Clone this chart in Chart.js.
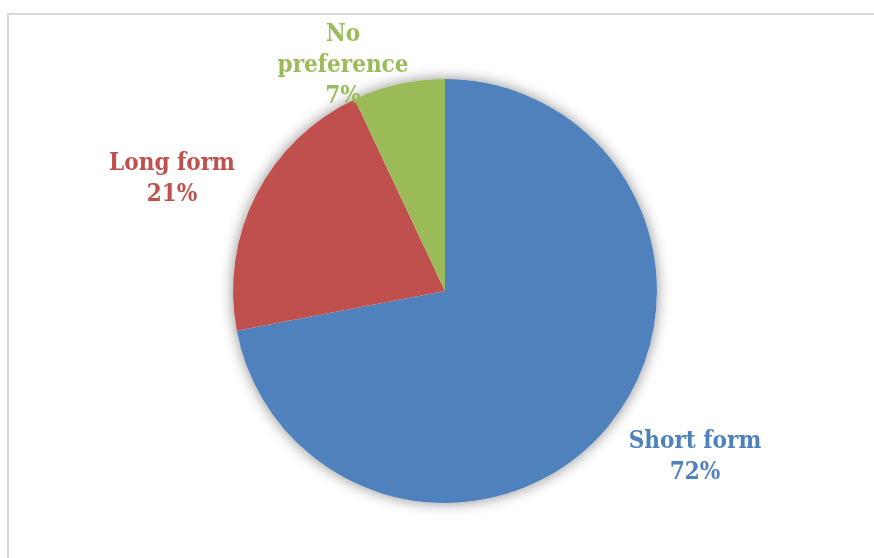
<!DOCTYPE html>
<html>
<head>
<meta charset="utf-8">
<script src="https://cdn.jsdelivr.net/npm/chart.js@4/dist/chart.umd.min.js"></script>
<style>
	html, body { margin: 0; padding: 0; background: #ffffff; overflow: hidden; }
	#frame {
		position: absolute; left: 7px; top: 13px;
		width: 900px; height: 600px;
		border: 2px solid #d9d9d9;
	}
	#wrap { position: absolute; left: 0; top: 0; width: 874px; height: 558px; }
</style>
</head>
<body>
<div id="frame"></div>
<div id="wrap"><canvas id="preference"></canvas></div>
<script>
var categories = ['Short form', 'Long form', 'No preference'];
var shares = [72, 21, 7];
var sliceColors = ['#4f81bd', '#c0504d', '#9bbb59'];

// label text lines (category split for wrapping) and where each block sits, relative to the pie centre
var labelLines = [['Short form'], ['Long form'], ['No', 'preference']];
var labelOffsets = [[250, 166], [-273, -112], [-102, -225]];

// soft drop shadow behind the whole pie
var pieShadow = {
	id: 'pieShadow',
	beforeDatasetsDraw: function(chart) {
		var arc = chart.getDatasetMeta(0).data[0];
		var ctx = chart.ctx;
		ctx.save();
		ctx.shadowColor = 'rgba(0,0,0,0.45)';
		ctx.shadowBlur = 14;
		ctx.fillStyle = '#ffffff';
		ctx.beginPath();
		ctx.arc(arc.x, arc.y, arc.outerRadius, 0, Math.PI * 2);
		ctx.fill();
		ctx.restore();
	}
};

// category + percentage labels outside the slices
var sliceLabels = {
	id: 'sliceLabels',
	afterDatasetsDraw: function(chart) {
		var meta = chart.getDatasetMeta(0);
		var ctx = chart.ctx;
		var lineH = 31;
		ctx.save();
		ctx.font = 'bold 24px "DejaVu Serif Condensed", "DejaVu Serif", serif';
		ctx.textAlign = 'center';
		ctx.textBaseline = 'middle';
		meta.data.forEach(function(arc, i) {
			var lines = labelLines[i].concat([shares[i] + '%']);
			var cx = arc.x + labelOffsets[i][0];
			var cy = arc.y + labelOffsets[i][1];
			var top = cy - (lines.length - 1) * lineH / 2;
			ctx.fillStyle = sliceColors[i];
			lines.forEach(function(t, j) {
				ctx.fillText(t, cx, top + j * lineH);
			});
		});
		ctx.restore();
	}
};

window.onload = function() {
	var ctx = document.getElementById('preference').getContext('2d');
	window.myPie = new Chart(ctx, {
		type: 'pie',
		data: {
			labels: categories,
			datasets: [{
				data: shares,
				backgroundColor: sliceColors,
				borderWidth: 0,
				radius: 212
			}]
		},
		options: {
			responsive: true,
			maintainAspectRatio: false,
			animation: false,
			events: [],
			layout: { padding: { left: 16, top: 24 } },
			plugins: {
				legend: { display: false },
				tooltip: { enabled: false }
			}
		},
		plugins: [pieShadow, sliceLabels]
	});
};
</script>
</body>
</html>
